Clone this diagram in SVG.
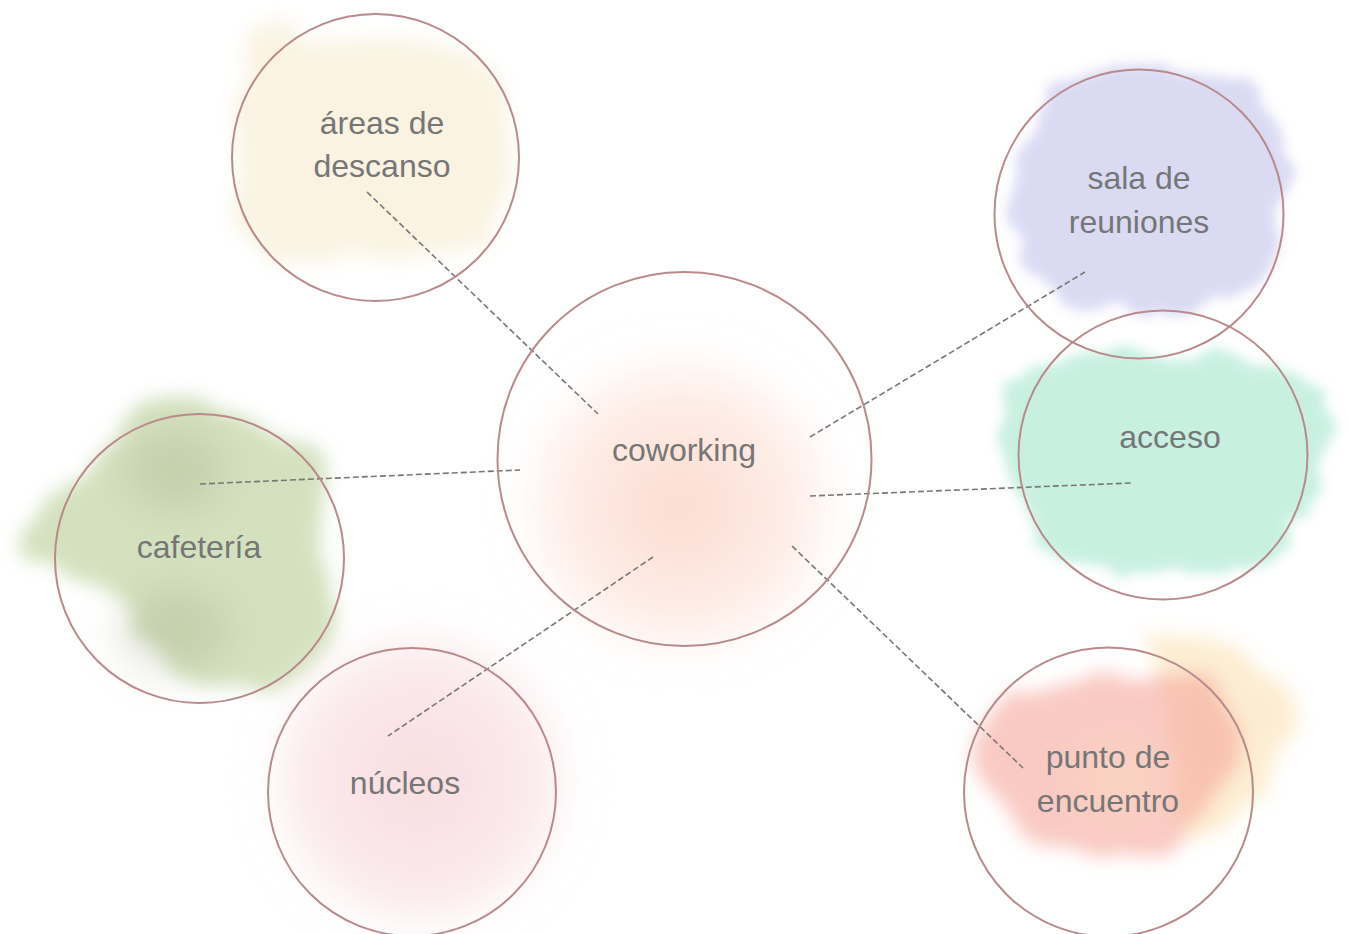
<svg xmlns="http://www.w3.org/2000/svg" width="1351" height="934" viewBox="0 0 1351 934">
<defs>
<filter id="wc" x="-30%" y="-30%" width="160%" height="160%">
<feTurbulence type="fractalNoise" baseFrequency="0.012" numOctaves="3" seed="3" result="n"/>
<feDisplacementMap in="SourceGraphic" in2="n" scale="45" xChannelSelector="R" yChannelSelector="G" result="d"/>
<feGaussianBlur in="d" stdDeviation="9"/>
</filter>
<filter id="wc2" x="-30%" y="-30%" width="160%" height="160%">
<feTurbulence type="fractalNoise" baseFrequency="0.02" numOctaves="4" seed="8" result="n"/>
<feDisplacementMap in="SourceGraphic" in2="n" scale="35" xChannelSelector="R" yChannelSelector="G" result="d"/>
<feGaussianBlur in="d" stdDeviation="6"/>
</filter>
<filter id="soft" x="-30%" y="-30%" width="160%" height="160%">
<feGaussianBlur stdDeviation="18"/>
</filter>
<filter id="vsoft" x="-50%" y="-50%" width="200%" height="200%">
<feGaussianBlur stdDeviation="22"/>
</filter>
<radialGradient id="gCo" cx="50%" cy="55%" r="50%">
<stop offset="0" stop-color="#fbcfbf" stop-opacity="0.75"/>
<stop offset="0.7" stop-color="#fcdcd0" stop-opacity="0.5"/>
<stop offset="1" stop-color="#fde8e0" stop-opacity="0"/>
</radialGradient>
<radialGradient id="gNu" cx="50%" cy="50%" r="50%">
<stop offset="0" stop-color="#f5cdd3" stop-opacity="0.7"/>
<stop offset="0.75" stop-color="#f7d9dc" stop-opacity="0.55"/>
<stop offset="1" stop-color="#fae6e8" stop-opacity="0"/>
</radialGradient>
</defs>
<style>
.ring{fill:none;stroke:#b98a8b;stroke-width:2}
.lbl{font-family:"Liberation Sans",Arial,sans-serif;font-size:32px;fill:#767676;text-anchor:middle}
.conn line{stroke:#777;stroke-width:1.6;stroke-dasharray:6 3;fill:none}
</style>
<rect width="1351" height="934" fill="#ffffff"/>

<g id="blobs">
<!-- areas de descanso cream -->
<g filter="url(#wc)" opacity="0.6">
<path d="M250,30 C270,10 300,20 300,45 C340,30 420,35 470,55 C510,70 515,110 505,150 C520,185 515,225 490,245 C440,265 340,262 280,255 C245,248 230,210 238,180 C225,150 235,110 245,85 C240,60 240,40 250,30 Z" fill="#f7ecd0"/>
</g>
<!-- coworking peach -->
<ellipse cx="680" cy="490" rx="170" ry="165" fill="url(#gCo)" filter="url(#soft)"/>
<!-- sala de reuniones lavender -->
<g filter="url(#wc2)" opacity="0.65">
<path d="M1040,100 C1090,60 1180,55 1240,85 C1285,110 1295,160 1280,210 C1285,250 1260,290 1210,305 C1150,320 1070,310 1035,275 C1000,240 1000,170 1040,100 Z" fill="#c8c7ee"/>
</g>
<!-- acceso mint -->
<g filter="url(#wc2)" opacity="0.7">
<path d="M1010,380 C1060,345 1160,350 1240,360 C1300,370 1340,395 1335,430 C1330,470 1300,500 1290,540 C1270,580 1200,580 1140,578 C1080,575 1040,560 1030,520 C1015,490 995,450 1000,420 C1002,400 1005,390 1010,380 Z" fill="#b2ead5"/>
</g>
<!-- cafeteria green -->
<g filter="url(#wc)" opacity="0.7">
<path d="M140,400 C170,385 200,390 215,410 C250,420 290,440 310,470 C330,510 320,560 330,600 C335,640 310,680 270,690 C230,695 180,680 150,650 C120,620 90,580 50,560 C25,545 30,520 60,500 C90,480 100,440 140,400 Z" fill="#c2d5a4"/>
</g>
<g filter="url(#vsoft)" opacity="0.35">
<ellipse cx="175" cy="470" rx="50" ry="40" fill="#a7ad8a"/>
<ellipse cx="175" cy="630" rx="55" ry="40" fill="#a7ad8a"/>
</g>
<!-- nucleos pink -->
<ellipse cx="420" cy="780" rx="160" ry="160" fill="url(#gNu)" filter="url(#soft)"/>
<!-- punto de encuentro -->
<g filter="url(#wc)" opacity="0.55">
<path d="M1150,640 C1200,630 1250,650 1270,680 C1300,710 1295,750 1270,780 C1250,820 1210,840 1190,830 C1180,790 1160,720 1150,640 Z" fill="#fbe0ad"/>
</g>
<g filter="url(#wc)" opacity="0.6">
<path d="M1020,700 C1070,680 1140,660 1200,680 C1240,700 1250,740 1230,780 C1210,820 1170,855 1110,858 C1060,860 1020,840 1000,810 C975,790 970,760 985,740 C995,720 1005,705 1020,700 Z" fill="#f6a79c"/>
</g>
<g filter="url(#vsoft)" opacity="0.4">
<ellipse cx="1120" cy="780" rx="50" ry="35" fill="#fbe0c0"/>
</g>
</g>

<g id="connectors" class="conn">
<line x1="367" y1="192" x2="598" y2="414"/>
<line x1="810" y1="437" x2="1085" y2="272"/>
<line x1="200" y1="484" x2="520" y2="470"/>
<line x1="810" y1="496" x2="1131" y2="483"/>
<line x1="792" y1="546" x2="1023" y2="768"/>
<line x1="653" y1="557" x2="388" y2="736"/>
</g>

<g id="node-coworking">
<circle class="ring" cx="684.5" cy="459" r="187"/>
<text class="lbl" x="684" y="461">coworking</text>
</g>
<g id="node-areas">
<circle class="ring" cx="375.5" cy="157.5" r="143.5"/>
<text class="lbl" x="382" y="134">áreas de</text>
<text class="lbl" x="382" y="177">descanso</text>
</g>
<g id="node-sala">
<circle class="ring" cx="1139" cy="214" r="144.5"/>
<text class="lbl" x="1139" y="189">sala de</text>
<text class="lbl" x="1139" y="233">reuniones</text>
</g>
<g id="node-acceso">
<circle class="ring" cx="1163" cy="455" r="144.5"/>
<text class="lbl" x="1170" y="448">acceso</text>
</g>
<g id="node-cafeteria">
<circle class="ring" cx="199.5" cy="558.5" r="144.5"/>
<text class="lbl" x="199" y="558">cafetería</text>
</g>
<g id="node-nucleos">
<circle class="ring" cx="412" cy="792" r="144"/>
<text class="lbl" x="405" y="794">núcleos</text>
</g>
<g id="node-punto">
<circle class="ring" cx="1108.5" cy="792" r="144.5"/>
<text class="lbl" x="1108" y="768">punto de</text>
<text class="lbl" x="1108" y="812">encuentro</text>
</g>
</svg>
